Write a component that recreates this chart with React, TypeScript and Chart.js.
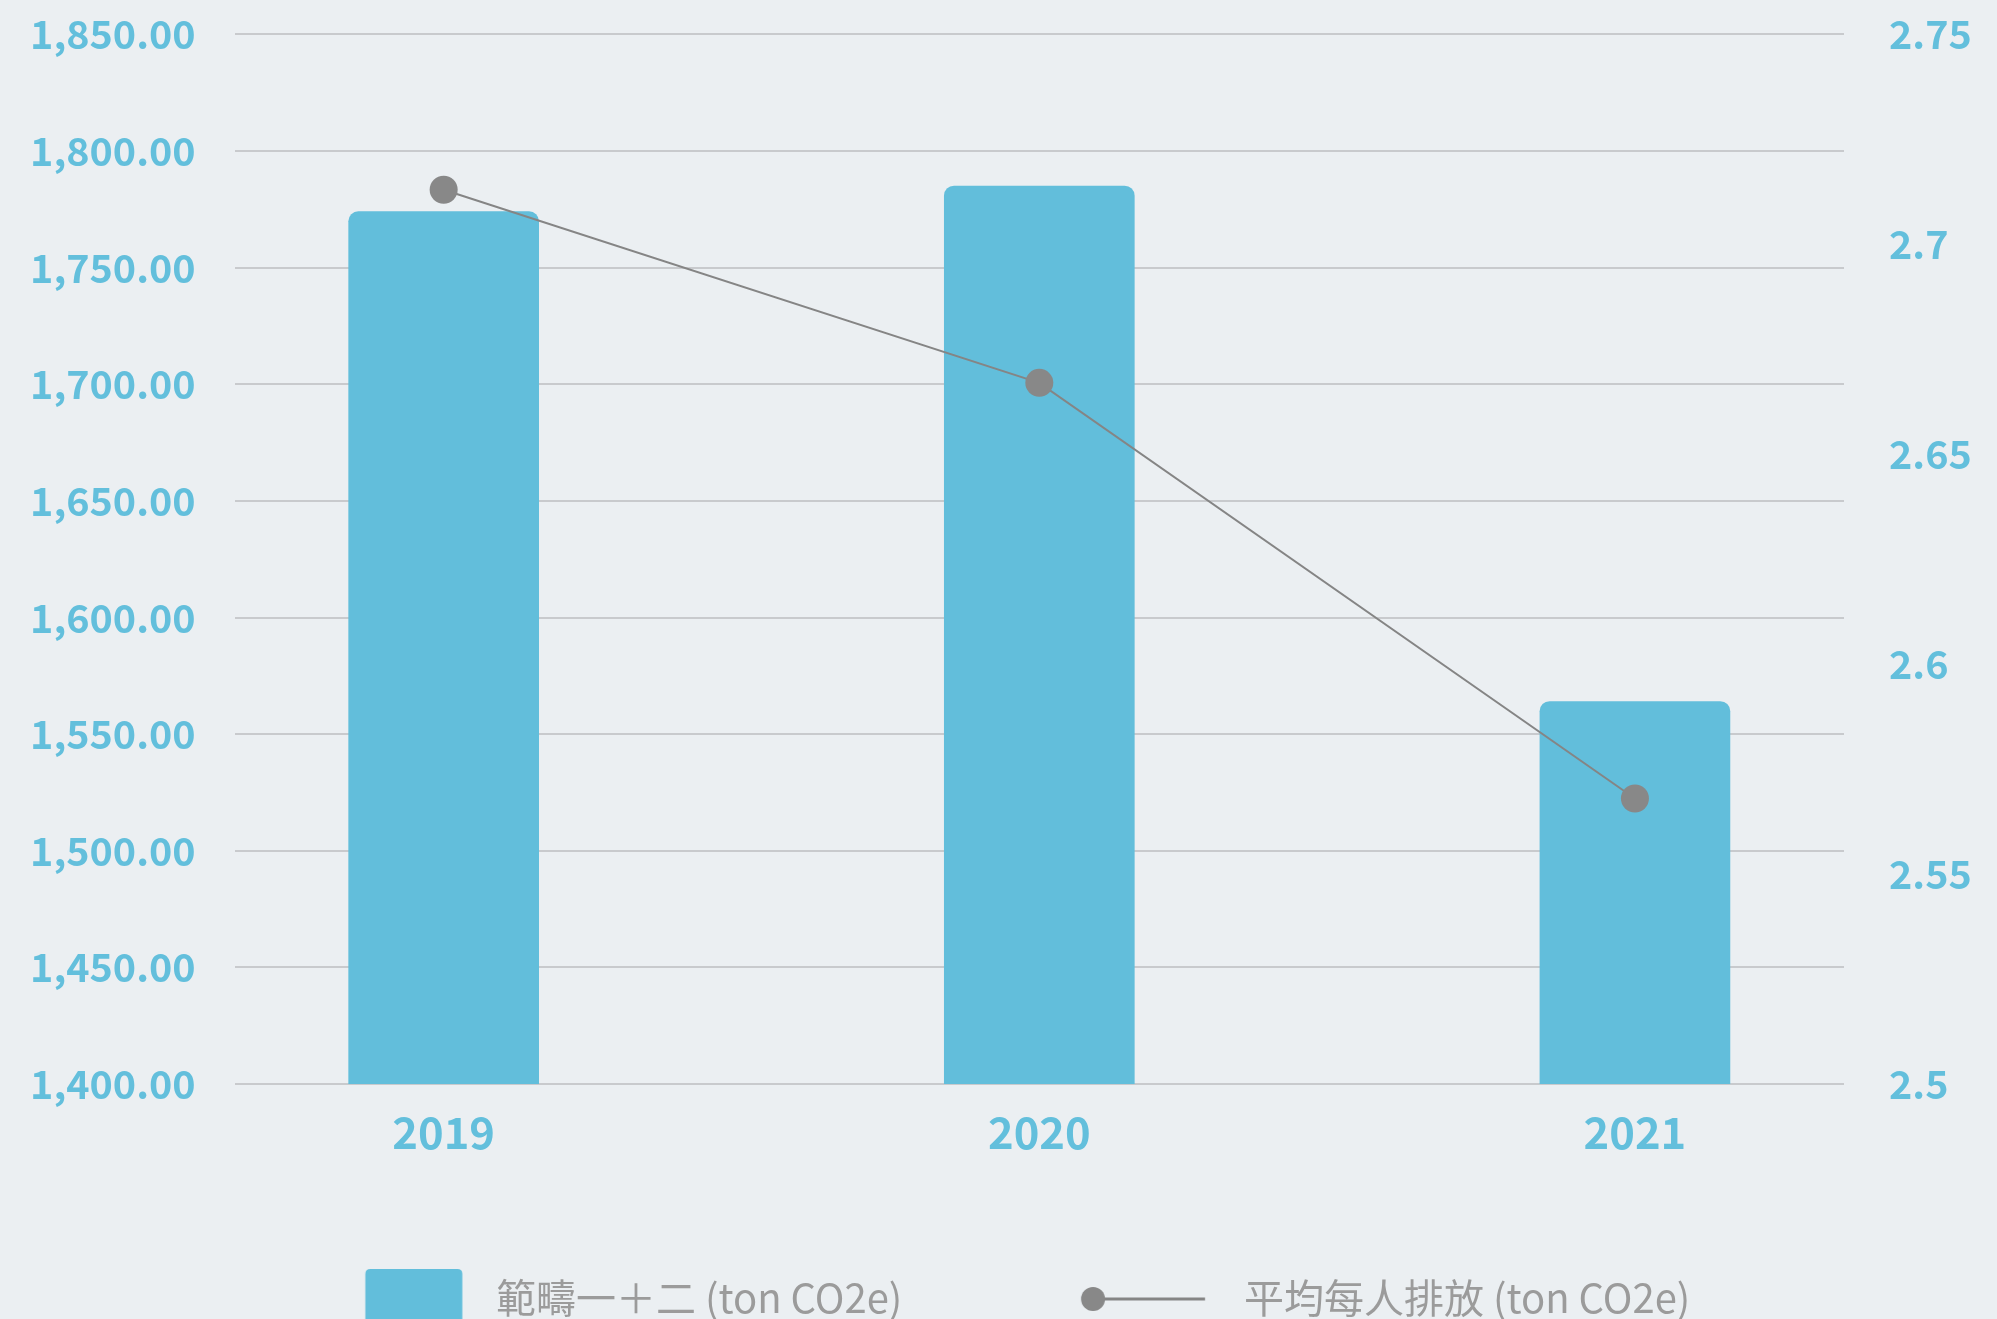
import React, { useEffect, useRef } from 'react';
import { Chart, registerables } from 'chart.js';

Chart.register(...registerables);

// ---- data ----
const years = [2019, 2020, 2021];
const scopeEmissions = [1774, 1785, 1564];
const perCapitaEmissions = [2.713, 2.667, 2.568];
const leftAxis = { min: 1400, max: 1850, step: 50 };
const rightAxis = { min: 2.5, max: 2.75, step: 0.05 };
const barLabel = '範疇一＋二 (ton CO2e)';
const lineLabel = '平均每人排放 (ton CO2e)';

// ---- style / layout ----
const CANVAS_W = 1997;
const VIEW_H = 1319;
const BG = '#ebeff2';
const BLUE = '#62bedb';
const TICK_BLUE = '#63bfdc';
const LINE_GRAY = '#858585';
const POINT_GRAY = '#888888';
const GRID = '#c8cacd';
const LEGEND_TEXT = '#9b9b9b';
const CLEAR = 'rgba(0,0,0,0)';
const FONT = "'Noto Sans CJK TC', 'Noto Sans', sans-serif";
const X_PAD = 0.351;
const PAD_L = -40;
const PAD_R = 0;
const PAD_T = 34.4;
const PLOT_LEFT = 234.6;
const PLOT_RIGHT = 1844;
const PLOT_BOTTOM = 1084;
const LEG_FONT = 40;
const LEG_TEXT1_X = 496;
const LEG_TEXT2_X = 1244;
const LEG_CENTER_Y = 1298;
const LEG_RECT_X = 365.3;
const LEG_RECT_TOP = 1269;
const LEG_DOT_X = 1093;
const LEG_LINE_END = 1205;
const GLYPH_H = 100;

function roundTopRect(g: CanvasRenderingContext2D, x: number, y: number, w: number, h: number, r: number) {
  g.beginPath();
  g.moveTo(x, y + h);
  g.lineTo(x, y + r);
  g.quadraticCurveTo(x, y, x + r, y);
  g.lineTo(x + w - r, y);
  g.quadraticCurveTo(x + w, y, x + w, y + r);
  g.lineTo(x + w, y + h);
  g.closePath();
}

function legendGeometry() {
  const c = document.createElement('canvas');
  const g = c.getContext('2d')!;
  g.font = `normal ${LEG_FONT}px ${FONT}`;
  const t1 = g.measureText(barLabel).width;
  const t2 = g.measureText(lineLabel).width;
  const L = PAD_L;
  const R = CANVAS_W - PAD_R;
  const half = LEG_FONT / 2;
  const pad = L + R - t1 - t2 - 2 * LEG_TEXT1_X;
  const boxW = LEG_TEXT2_X - LEG_TEXT1_X - t1 - half - pad;
  const x1 = LEG_TEXT1_X - boxW - half;
  const x2 = LEG_TEXT2_X - boxW - half;
  const legendTop = LEG_CENTER_Y - half - pad;
  const canvasH = Math.ceil(legendTop + LEG_FONT + pad + 10);
  return { pad, boxW, x1, x2, legendTop, canvasH };
}

function makeBarGlyph(boxW: number, x1: number): HTMLCanvasElement {
  const c = document.createElement('canvas');
  c.width = Math.round(boxW);
  c.height = GLYPH_H;
  const g = c.getContext('2d')!;
  const top = LEG_RECT_TOP - (LEG_CENTER_Y - GLYPH_H / 2);
  g.fillStyle = BLUE;
  roundTopRect(g, LEG_RECT_X - x1 - (boxW - c.width) / 2, top, 97, GLYPH_H, 5);
  g.fill();
  return c;
}

function makeLineGlyph(boxW: number, x2: number): HTMLCanvasElement {
  const c = document.createElement('canvas');
  c.width = Math.round(boxW);
  c.height = GLYPH_H;
  const g = c.getContext('2d')!;
  const shift = (boxW - c.width) / 2;
  const cy = GLYPH_H / 2 + 1;
  g.strokeStyle = LINE_GRAY;
  g.lineWidth = 3;
  g.beginPath();
  g.moveTo(LEG_DOT_X - x2 - shift, cy);
  g.lineTo(LEG_LINE_END - x2 - shift, cy);
  g.stroke();
  g.fillStyle = POINT_GRAY;
  g.beginPath();
  g.arc(LEG_DOT_X - x2 - shift, cy, 12, 0, Math.PI * 2);
  g.fill();
  return c;
}

export default function App() {
  const ref = useRef<HTMLCanvasElement | null>(null);

  useEffect(() => {
    const canvas = ref.current;
    if (!canvas) return;
    Chart.defaults.font.family = FONT;
    const geo = legendGeometry();
    canvas.width = CANVAS_W;
    canvas.height = geo.canvasH;
    const barGlyph = makeBarGlyph(geo.boxW, geo.x1);
    const lineGlyph = makeLineGlyph(geo.boxW, geo.x2);
    const xAxisH = geo.legendTop - PLOT_BOTTOM;

    const chart = new Chart(canvas, {
      type: 'bar',
      data: {
        datasets: [
          {
            type: 'bar',
            label: barLabel,
            data: years.map((y, i) => ({ x: y, y: scopeEmissions[i] })),
            backgroundColor: BLUE,
            barThickness: 190,
            borderRadius: 10,
            yAxisID: 'y',
            order: 1,
          },
          {
            type: 'line',
            label: lineLabel,
            data: years.map((y, i) => ({ x: y, y: perCapitaEmissions[i] })),
            borderColor: LINE_GRAY,
            borderWidth: 2,
            pointRadius: 14,
            pointHoverRadius: 14,
            pointBackgroundColor: POINT_GRAY,
            pointBorderWidth: 0,
            yAxisID: 'y1',
            order: 0,
          },
        ],
      } as any,
      options: {
        responsive: false,
        animation: false,
        events: [],
        layout: { padding: { top: PAD_T, left: PAD_L, right: PAD_R, bottom: 0 } },
        scales: {
          x: {
            type: 'linear',
            offset: false,
            min: years[0] - X_PAD,
            max: years[years.length - 1] + X_PAD,
            grid: { display: false },
            border: { display: false },
            ticks: {
              stepSize: 1,
              includeBounds: false,
              padding: 14,
              color: TICK_BLUE,
              font: { size: 43.5, weight: 'bold', family: FONT },
              callback: (v: any) => String(v),
            },
            afterFit: (s: any) => {
              s.height = xAxisH;
            },
          },
          y: {
            type: 'linear',
            position: 'left',
            min: leftAxis.min,
            max: leftAxis.max,
            grid: { color: GRID, lineWidth: 2, drawTicks: true, tickLength: 39, tickColor: CLEAR },
            border: { display: false },
            ticks: {
              stepSize: leftAxis.step,
              padding: 0,
              color: TICK_BLUE,
              font: { size: 39.5, weight: 'bold', family: FONT },
              callback: (v: any) =>
                Number(v).toLocaleString('en-US', { minimumFractionDigits: 2, maximumFractionDigits: 2 }),
            },
            afterFit: (s: any) => {
              s.width = PLOT_LEFT - PAD_L;
            },
          },
          y1: {
            type: 'linear',
            position: 'right',
            min: rightAxis.min,
            max: rightAxis.max,
            grid: { display: true, drawOnChartArea: false, drawTicks: true, tickLength: 45, tickColor: CLEAR },
            border: { display: false },
            ticks: {
              stepSize: rightAxis.step,
              padding: 0,
              color: TICK_BLUE,
              font: { size: 39.5, weight: 'bold', family: FONT },
              callback: (v: any) => String(Number(Number(v).toFixed(2))),
            },
            afterFit: (s: any) => {
              s.width = CANVAS_W - PAD_R - PLOT_RIGHT;
            },
          },
        },
        plugins: {
          tooltip: { enabled: false },
          legend: {
            position: 'bottom',
            labels: {
              usePointStyle: true,
              pointStyleWidth: geo.boxW,
              padding: geo.pad,
              color: LEGEND_TEXT,
              font: { size: LEG_FONT, family: FONT },
              generateLabels: () => [
                {
                  text: barLabel,
                  fillStyle: BLUE,
                  strokeStyle: BLUE,
                  lineWidth: 0,
                  pointStyle: barGlyph,
                  hidden: false,
                  datasetIndex: 0,
                  fontColor: LEGEND_TEXT,
                } as any,
                {
                  text: lineLabel,
                  fillStyle: POINT_GRAY,
                  strokeStyle: LINE_GRAY,
                  lineWidth: 0,
                  pointStyle: lineGlyph,
                  hidden: false,
                  datasetIndex: 1,
                  fontColor: LEGEND_TEXT,
                } as any,
              ],
            },
          },
        },
      } as any,
    });
    return () => chart.destroy();
  }, []);

  return (
    <div
      style={{
        position: 'absolute',
        left: 0,
        top: 0,
        width: CANVAS_W,
        height: VIEW_H,
        overflow: 'hidden',
        background: BG,
      }}
    >
      <canvas ref={ref} width={CANVAS_W} height={1328} style={{ display: 'block' }} />
    </div>
  );
}
